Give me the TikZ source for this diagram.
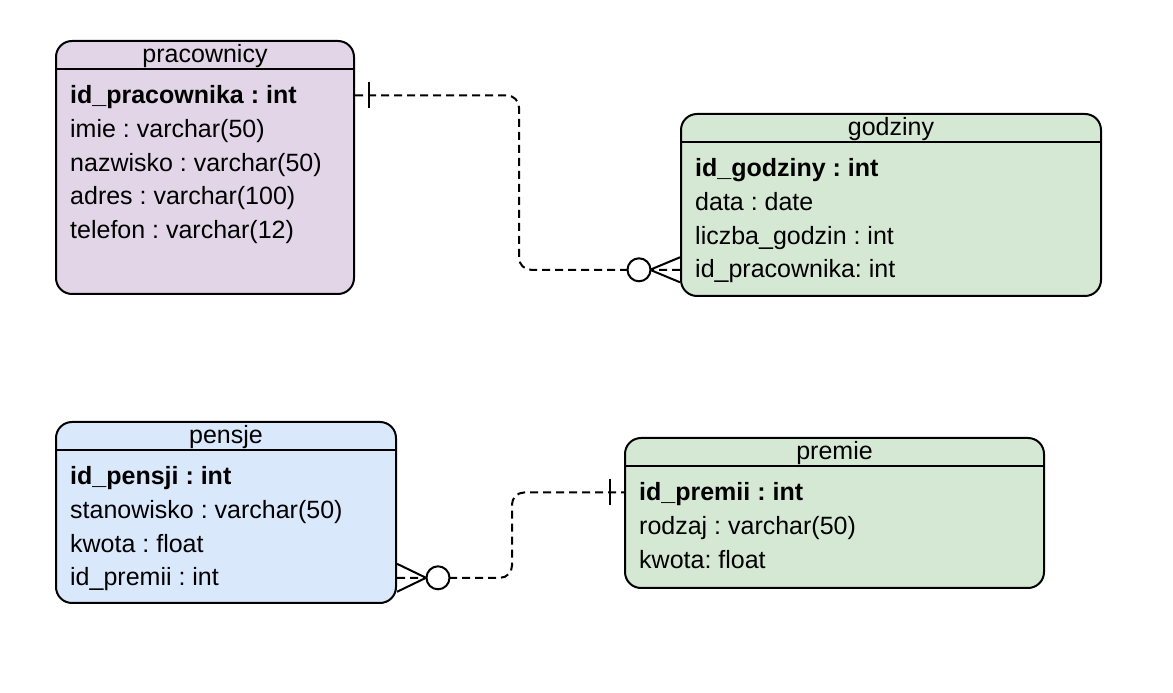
\documentclass[tikz,border=0pt]{standalone}
\usepackage{fontspec}
\setmainfont{Liberation Sans}
\usetikzlibrary{positioning}
\frenchspacing
\definecolor{violetfill}{HTML}{E1D5E7}
\definecolor{greenfill}{HTML}{D5E8D4}
\definecolor{bluefill}{HTML}{DAE8FC}
\tikzset{
  entity/.style={draw, line width=2bp, rounded corners=16bp, inner sep=0pt, anchor=north west},
  headline/.style={line width=2bp},
  title/.style={anchor=base, inner sep=0pt, font=\fontsize{25bp}{30bp}\selectfont},
  field/.style={anchor=base west, inner sep=0pt, text height=20bp, text depth=4bp, font=\fontsize{25bp}{30bp}\selectfont},
  keyfield/.style={field, font=\fontsize{25bp}{30bp}\selectfont\bfseries},
  rel/.style={line width=2bp, dash pattern=on 8bp off 5bp, rounded corners=12bp},
  foot/.style={line width=2bp}
}
\begin{document}
\begin{tikzpicture}[line join=round]
  \useasboundingbox (0bp,0bp) rectangle (1173bp,693bp);
  % Node: pracownicy
  \node[entity, fill=violetfill, minimum width=298bp, minimum height=253bp] (prac) at (55bp,653bp) {};
  \draw[headline] ([yshift=-29bp]prac.north west) -- ([yshift=-29bp]prac.north east);
  \node[title] at ([yshift=-22.5bp]prac.north) {pracownicy};
  \node[keyfield] (prac-id) at ([xshift=15bp,yshift=-63.5bp]prac.north west) {id\_pracownika : int};
  \node[field] (prac-imie) at ([yshift=-34.5bp]prac-id.base west) {imie : varchar(50)};
  \node[field] (prac-nazw) at ([yshift=-33.4bp]prac-imie.base west) {nazwisko : varchar(50)};
  \node[field] (prac-adr) at ([yshift=-33.4bp]prac-nazw.base west) {adres : varchar(100)};
  \node[field] (prac-tel) at ([yshift=-33.4bp]prac-adr.base west) {telefon : varchar(12)};
  % Node: godziny
  \node[entity, fill=greenfill, minimum width=420bp, minimum height=182bp] (god) at (680bp,580bp) {};
  \draw[headline] ([yshift=-29bp]god.north west) -- ([yshift=-29bp]god.north east);
  \node[title] at ([yshift=-22.5bp]god.north) {godziny};
  \node[keyfield] (god-id) at ([xshift=15bp,yshift=-63.5bp]god.north west) {id\_godziny : int};
  \node[field] (god-data) at ([yshift=-34.5bp]god-id.base west) {data : date};
  \node[field] (god-liczba) at ([yshift=-33.4bp]god-data.base west) {liczba\_godzin : int};
  \node[field] (god-fk) at ([yshift=-33.4bp]god-liczba.base west) {id\_pracownika: int};
  % Node: pensje
  \node[entity, fill=bluefill, minimum width=340bp, minimum height=181bp] (pen) at (55bp,272bp) {};
  \draw[headline] ([yshift=-29bp]pen.north west) -- ([yshift=-29bp]pen.north east);
  \node[title] at ([yshift=-22.5bp]pen.north) {pensje};
  \node[keyfield] (pen-id) at ([xshift=15bp,yshift=-63.5bp]pen.north west) {id\_pensji : int};
  \node[field] (pen-stan) at ([yshift=-34.5bp]pen-id.base west) {stanowisko : varchar(50)};
  \node[field] (pen-kwota) at ([yshift=-33.4bp]pen-stan.base west) {kwota : float};
  \node[field] (pen-fk) at ([yshift=-33.4bp]pen-kwota.base west) {id\_premii : int};
  % Node: premie
  \node[entity, fill=greenfill, minimum width=419bp, minimum height=150bp] (prem) at (624bp,256bp) {};
  \draw[headline] ([yshift=-29bp]prem.north west) -- ([yshift=-29bp]prem.north east);
  \node[title] at ([yshift=-22.5bp]prem.north) {premie};
  \node[keyfield] (prem-id) at ([xshift=15bp,yshift=-63.5bp]prem.north west) {id\_premii : int};
  \node[field] (prem-rodz) at ([yshift=-34.5bp]prem-id.base west) {rodzaj : varchar(50)};
  \node[field] (prem-kwota) at ([yshift=-33.4bp]prem-rodz.base west) {kwota: float};
  %
  \coordinate (prac-one) at (prac.east |- prac-id);
  \coordinate (god-many) at (god.west |- god-fk);
  \coordinate (prem-one) at (prem.west |- prem-id);
  \coordinate (pen-many) at (pen.east |- pen-fk);
  % Edge: pracownicy -> godziny
  \draw[rel] (prac-one) -- ++(164bp,0bp) |- (god-many);
  \draw[foot] ([xshift=14bp,yshift=13bp]prac-one) -- ([xshift=14bp,yshift=-13bp]prac-one);
  \draw[foot] ([yshift=12.5bp]god-many) -- ([xshift=-30bp]god-many) -- ([yshift=-12.5bp]god-many);
  \draw[foot, fill=white] ([xshift=-41bp]god-many) circle (11.5bp);
  % Edge: premie -> pensje
  \draw[rel] (pen-many) -- ++(115bp,0bp) |- (prem-one);
  \draw[foot] ([xshift=-14bp,yshift=13bp]prem-one) -- ([xshift=-14bp,yshift=-13bp]prem-one);
  \draw[foot] ([yshift=14bp]pen-many) -- ([xshift=29bp]pen-many) -- ([yshift=-14bp]pen-many);
  \draw[foot, fill=white] ([xshift=41bp]pen-many) circle (11.5bp);
\end{tikzpicture}
\end{document}
